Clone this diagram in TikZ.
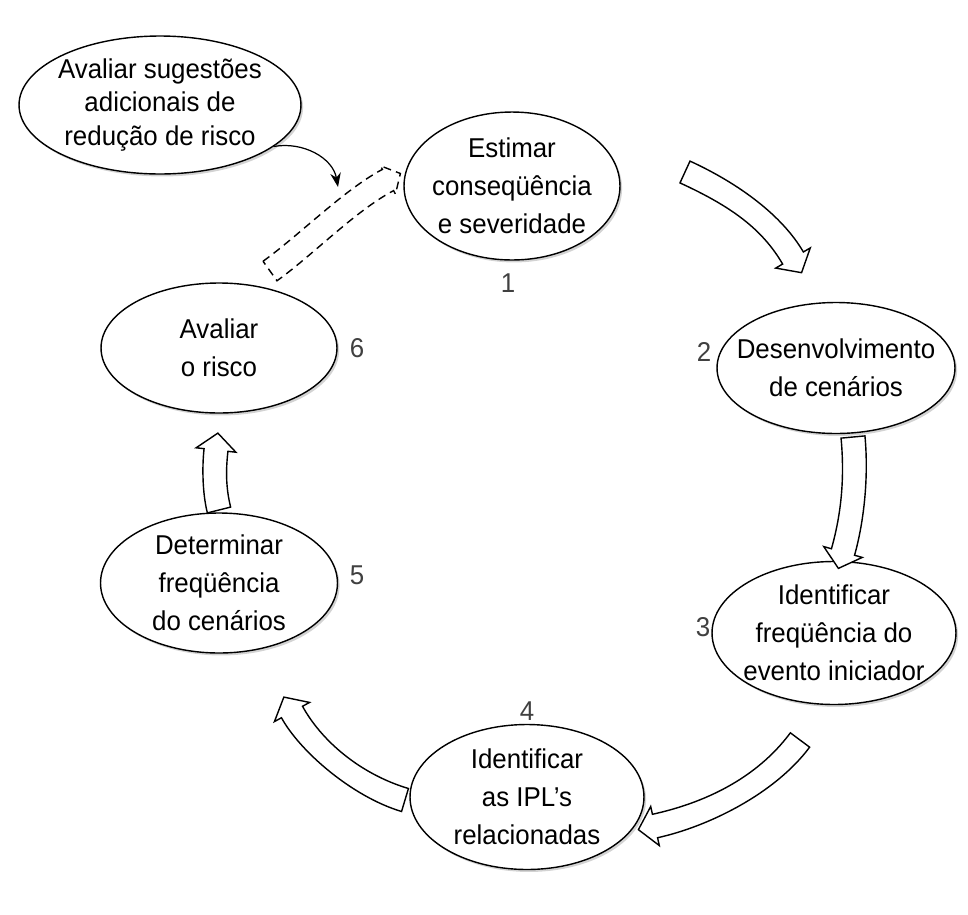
\documentclass[tikz,border=0pt]{standalone}
\usepackage{fontspec}
\setmainfont{Liberation Sans}[FakeStretch=0.95]
\usetikzlibrary{shapes.geometric,shadows,calc,arrows.meta}

\newcommand{\hs}{0.24cm}% meia largura da haste
\newcommand{\hw}{0.40cm}% meia largura da ponta
\newcommand{\hl}{0.34cm}% comprimento da ponta

% seta larga: #2 cauda, #3 e #4 controles, #5 base da ponta
\newcommand{\setalarga}[5][]{%
  \coordinate (sa) at ($(#2)!\hs!90:(#3)$);
  \coordinate (sb) at ($(#2)!\hs!-90:(#3)$);
  \coordinate (ha) at ($(#5)!\hs!-90:(#4)$);
  \coordinate (hb) at ($(#5)!\hs!90:(#4)$);
  \coordinate (ca) at ($(#3)+(sa)-(#2)$);
  \coordinate (cb) at ($(#3)+(sb)-(#2)$);
  \coordinate (da) at ($(#4)+(ha)-(#5)$);
  \coordinate (db) at ($(#4)+(hb)-(#5)$);
  \coordinate (wa) at ($(#5)!\hw!-90:(#4)$);
  \coordinate (wb) at ($(#5)!\hw!90:(#4)$);
  \coordinate (tp) at ($(#5)!-\hl!(#4)$);
  \draw[seta, #1] (sa) .. controls (ca) and (da) .. (ha) -- (wa) -- (tp) -- (wb)
    -- (hb) .. controls (db) and (cb) .. (sb) -- cycle;
}

\tikzset{
  etapa/.style={draw, ellipse, line width=0.8pt, fill=white, align=center,
    inner sep=-1cm, font=\fontsize{15.5}{21.5}\selectfont,
    drop shadow={shadow xshift=1.2pt, shadow yshift=-1.4pt, opacity=0.35}},
  num/.style={font=\fontsize{15.5}{18}\selectfont, text=black!75},
  seta/.style={draw, line width=0.8pt, fill=white, line join=miter},
}

\begin{document}
\begin{tikzpicture}[x=0.02cm, y=-0.02cm]
\useasboundingbox (0,0) rectangle (968,914);

\node[etapa, minimum width=5.64cm, minimum height=2.76cm, font=\fontsize{15.5}{19}\selectfont] (e0) at (160,105) {Avaliar sugestões\\adicionais de\\redução de risco};
\node[etapa, minimum width=4.32cm, minimum height=2.96cm] (e1) at (512,186) {Estimar\\conseqüência\\e severidade};
\node[etapa, minimum width=4.76cm, minimum height=2.62cm] (e2) at (836,368) {Desenvolvimento\\de cenários};
\node[etapa, minimum width=4.88cm, minimum height=2.86cm] (e3) at (834,633) {Identificar\\freqüência do\\evento iniciador};
\node[etapa, minimum width=4.68cm, minimum height=2.90cm] (e4) at (527,797) {Identificar\\as IPL’s\\relacionadas};
\node[etapa, minimum width=4.74cm, minimum height=2.80cm] (e5) at (219,583) {Determinar\\freqüência\\do cenários};
\node[etapa, minimum width=4.72cm, minimum height=2.60cm] (e6) at (219,348) {Avaliar\\o risco};

\node[num] (n1) at (508,283) {1};
\node[num] (n2) at (704,352) {2};
\node[num] (n3) at (703,627) {3};
\node[num] (n4) at (527,711) {4};
\node[num] (n5) at (357,575) {5};
\node[num] (n6) at (357,348) {6};

% setas entre etapas
\setalarga{685,172}{735,195}{772,222}{793,258}
\setalarga{853,437}{857,480}{852,520}{843,552}
\setalarga{800,740}{765,787}{705,815}{655,826}
\setalarga{405,800}{355,785}{310,745}{292,712}
\setalarga{219,510}{214,490}{214,468}{216,450}
{\renewcommand{\hw}{0.32cm}\renewcommand{\hl}{0.28cm}%
\setalarga[dash pattern=on 4.5pt off 3pt]{270,271}{305,246}{350,200}{388,180}}

\coordinate (alvo) at (338,187);
\draw[-{Stealth[length=8pt]}, line width=0.7pt] (e0.-20) to[out=10, in=100] (alvo);
\end{tikzpicture}
\end{document}
